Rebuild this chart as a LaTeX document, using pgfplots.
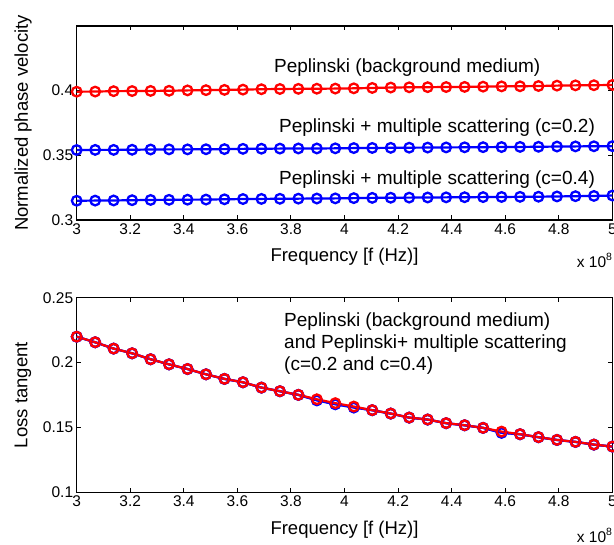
\documentclass[border=0pt]{standalone}
\usepackage{pgfplots}
\usepackage{pgfplotstable}
\pgfplotsset{compat=1.18}
\usepackage{fontspec}
\setmainfont{Liberation Sans}

\pgfplotstableread{
x red c2 c4
3.0000 0.3992 0.3541 0.3149
3.0690 0.3993 0.3542 0.3150
3.1379 0.3996 0.3542 0.3151
3.2069 0.3997 0.3543 0.3153
3.2759 0.3998 0.3545 0.3155
3.3448 0.3999 0.3546 0.3156
3.4138 0.4002 0.3546 0.3157
3.4828 0.4004 0.3547 0.3158
3.5517 0.4006 0.3548 0.3160
3.6207 0.4008 0.3550 0.3162
3.6897 0.4011 0.3551 0.3163
3.7586 0.4013 0.3552 0.3164
3.8276 0.4014 0.3553 0.3165
3.8966 0.4015 0.3553 0.3166
3.9655 0.4016 0.3554 0.3167
4.0345 0.4018 0.3556 0.3169
4.1034 0.4021 0.3557 0.3171
4.1724 0.4024 0.3558 0.3172
4.2414 0.4026 0.3559 0.3173
4.3103 0.4027 0.3560 0.3174
4.3793 0.4028 0.3561 0.3175
4.4483 0.4029 0.3562 0.3176
4.5172 0.4031 0.3563 0.3177
4.5862 0.4033 0.3564 0.3178
4.6552 0.4034 0.3565 0.3179
4.7241 0.4036 0.3566 0.3180
4.7931 0.4039 0.3568 0.3182
4.8621 0.4041 0.3569 0.3184
4.9310 0.4042 0.3570 0.3186
5.0000 0.4044 0.3571 0.3189
}\phase

\pgfplotstableread{
x red c2 c4
3.0000 0.2200 0.2200 0.2199
3.0690 0.2157 0.2157 0.2156
3.1379 0.2108 0.2108 0.2108
3.2069 0.2072 0.2072 0.2071
3.2759 0.2026 0.2026 0.2026
3.3448 0.1987 0.1987 0.1986
3.4138 0.1951 0.1951 0.1950
3.4828 0.1910 0.1910 0.1910
3.5517 0.1875 0.1875 0.1874
3.6207 0.1849 0.1849 0.1848
3.6897 0.1808 0.1808 0.1807
3.7586 0.1780 0.1780 0.1779
3.8276 0.1752 0.1752 0.1751
3.8966 0.1718 0.1712 0.1709
3.9655 0.1688 0.1681 0.1679
4.0345 0.1662 0.1656 0.1654
4.1034 0.1634 0.1634 0.1633
4.1724 0.1608 0.1608 0.1607
4.2414 0.1577 0.1577 0.1576
4.3103 0.1562 0.1562 0.1561
4.3793 0.1534 0.1534 0.1533
4.4483 0.1518 0.1518 0.1517
4.5172 0.1498 0.1498 0.1497
4.5862 0.1469 0.1461 0.1459
4.6552 0.1449 0.1449 0.1448
4.7241 0.1426 0.1426 0.1425
4.7931 0.1405 0.1405 0.1404
4.8621 0.1390 0.1390 0.1389
4.9310 0.1369 0.1369 0.1368
5.0000 0.1354 0.1354 0.1353
}\loss

\pgfplotsset{
  mlab/.style={
    scale only axis,
    width=535.7pt,
    xmin=3, xmax=5,
    xtick={3,3.2,3.4,3.6,3.8,4,4.2,4.4,4.6,4.8,5},
    xticklabels={3,3.2,3.4,3.6,3.8,4,4.2,4.4,4.6,4.8,5},
    tick align=inside,
    major tick length=4.5pt,
    axis line style={line width=1.2pt},
    every tick/.style={black, line width=1pt},
    tick label style={font=\fontsize{15.5}{18}\selectfont},
    label style={font=\fontsize{18.5}{22}\selectfont},
    xlabel={Frequency [f (Hz)]},
    xlabel style={at={(axis description cs:0.5,0)}, anchor=center, yshift=-37pt},
    ylabel style={at={(axis description cs:-0.1002,0.5)}, anchor=center},
    axis background/.style={fill=white},
    clip=false,
  },
  ln/.style={line width=2.2pt, mark=o, mark size=4.8pt, mark options={solid, line width=2.3pt}},
}

\begin{document}
\begin{tikzpicture}
\begin{axis}[mlab,
  anchor=south west, at={(76.7pt,325pt)},
  height=194pt,
  ymin=0.3, ymax=0.45,
  ytick={0.3,0.35,0.4},
  yticklabels={0.3,0.35,0.4},
  ylabel={Normalized phase velocity},
]
\addplot[ln, red] table[x=x, y=red] {\phase};
\addplot[ln, blue] table[x=x, y=c2] {\phase};
\addplot[ln, blue] table[x=x, y=c4] {\phase};
\node[anchor=base west, inner sep=0, font=\fontsize{19}{22}\selectfont] at (axis cs:3.7365,0.4137) {Peplinski (background medium)};
\node[anchor=base west, inner sep=0, font=\fontsize{19}{22}\selectfont] at (axis cs:3.755,0.3673) {Peplinski + multiple scattering (c=0.2)};
\node[anchor=base west, inner sep=0, font=\fontsize{19}{22}\selectfont] at (axis cs:3.755,0.3271) {Peplinski + multiple scattering (c=0.4)};
\node[anchor=base west, inner sep=0, font=\fontsize{15.5}{18}\selectfont] at (axis description cs:1,0) [xshift=-35.7pt, yshift=-48pt] {x 10\raisebox{7pt}{\fontsize{10.5}{12}\selectfont 8}};
\end{axis}

\begin{axis}[mlab,
  anchor=south west, at={(76.7pt,52.5pt)},
  height=194.8pt,
  ymin=0.1, ymax=0.25,
  ytick={0.1,0.15,0.2,0.25},
  yticklabels={0.1,0.15,0.2,0.25},
  ylabel={Loss tangent},
]
\addplot[ln, blue] table[x=x, y=c2] {\loss};
\addplot[ln, blue] table[x=x, y=c4] {\loss};
\addplot[ln, red] table[x=x, y=red] {\loss};
\node[anchor=base west, inner sep=0, font=\fontsize{19}{22}\selectfont] at (axis cs:3.774,0.2282) {Peplinski (background medium)};
\node[anchor=base west, inner sep=0, font=\fontsize{19}{22}\selectfont] at (axis cs:3.774,0.2108) {and Peplinski+ multiple scattering};
\node[anchor=base west, inner sep=0, font=\fontsize{19}{22}\selectfont] at (axis cs:3.774,0.1938) {(c=0.2 and c=0.4)};
\node[anchor=base west, inner sep=0, font=\fontsize{15.5}{18}\selectfont] at (axis description cs:1,0) [xshift=-35.7pt, yshift=-50.5pt] {x 10\raisebox{7pt}{\fontsize{10.5}{12}\selectfont 8}};
\end{axis}
\pgfresetboundingbox
\path[use as bounding box] (0,0) rectangle (614pt,545pt);
\end{tikzpicture}
\end{document}
